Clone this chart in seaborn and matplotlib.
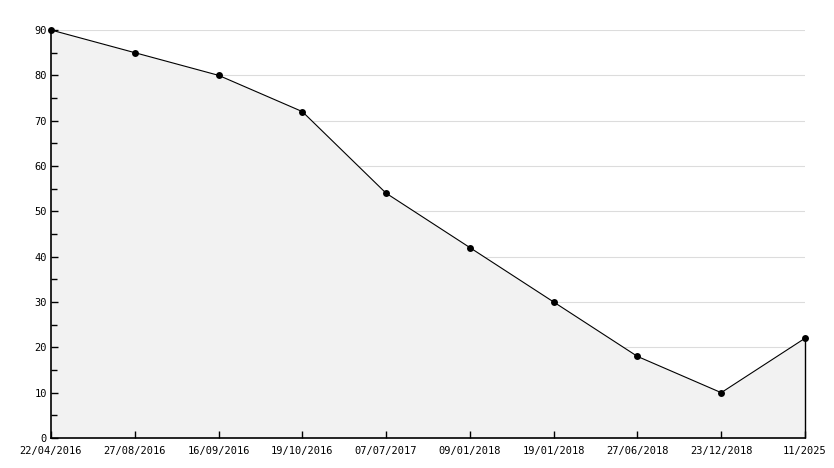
import numpy as np
import pandas as pd
import matplotlib
matplotlib.use("Agg")
import matplotlib.pyplot as plt
import seaborn as sns
from matplotlib.ticker import MultipleLocator

# data
dates = ["22/04/2016", "27/08/2016", "16/09/2016", "19/10/2016", "07/07/2017",
         "09/01/2018", "19/01/2018", "27/06/2018", "23/12/2018", "11/2025"]
values = [90, 85, 80, 72, 54, 42, 30, 18, 10, 22]

df = pd.DataFrame({"pos": np.arange(len(dates)), "value": values})

sns.set_theme(style="white")
plt.rcParams['font.family'] = ['DejaVu Sans Mono']

fig = plt.figure(figsize=(8.34, 4.68), dpi=100)
ax = fig.add_axes([51 / 834, 30 / 468, 754 / 834, 408 / 468])
ax.set_axisbelow(False)  # keep the inward ticks on top of the fill

# grid lines behind the fill
for yv in range(10, 91, 10):
    ax.axhline(yv, color="#dcdcdc", lw=0.8, zorder=0)

ax.fill_between(df["pos"], df["value"], 0, color="#f2f2f2", lw=0, zorder=1)
ax.vlines(df["pos"].iloc[-1], 0, df["value"].iloc[-1], color="black", lw=1,
          zorder=2, clip_on=False)

sns.lineplot(data=df, x="pos", y="value", ax=ax, color="black", lw=0.8,
             marker="o", markersize=5, markeredgewidth=0, zorder=3, clip_on=False)

ax.set_xlim(0, len(dates) - 1)
ax.set_ylim(0, 90)
ax.set_xticks(df["pos"])
ax.set_xticklabels(dates)
ax.yaxis.set_major_locator(MultipleLocator(10))
ax.yaxis.set_minor_locator(MultipleLocator(5))
ax.tick_params(axis="both", which="both", direction="in", colors="black",
               labelsize=7.5, length=5, width=1, pad=3,
               bottom=True, left=True)
ax.tick_params(axis="x", pad=6)
ax.tick_params(axis="x", which="minor", bottom=False)
ax.tick_params(axis="y", which="minor", length=4)
ax.set_xlabel("")
ax.set_ylabel("")

for side in ["top", "right"]:
    ax.spines[side].set_visible(False)
for side in ["left", "bottom"]:
    ax.spines[side].set_color("black")
    ax.spines[side].set_linewidth(1.2)

fig.savefig("out.png", dpi=100)
